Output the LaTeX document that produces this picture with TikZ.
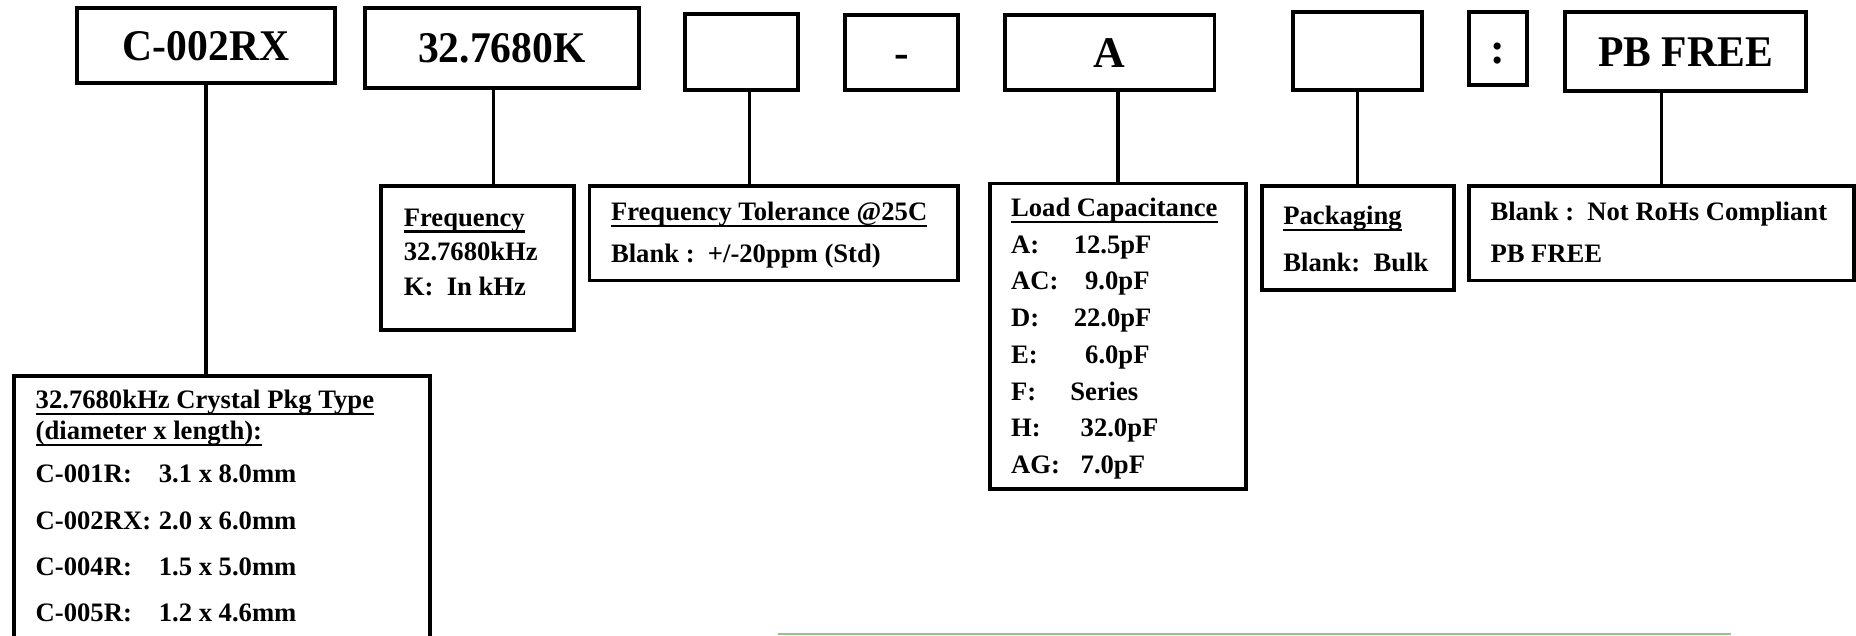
\documentclass[tikz,border=0pt]{standalone}
\usepackage{fontspec}
\setmainfont{Liberation Serif}
\definecolor{sepgreen}{RGB}{150,195,140}
\newcommand\myul[1]{\setbox0=\hbox{#1}\rlap{\rule[-5.5pt]{\wd0}{1.8pt}}\box0}
\newcommand\kv[3]{\makebox[#1][l]{#2}#3}
\begin{document}
\begin{tikzpicture}[x=1pt,y=-1pt,
  box/.style={draw, line width=3.3pt, rectangle, inner sep=0pt},
  topbox/.style={box, text height=25pt, text depth=0pt, font=\fontsize{37}{40}\selectfont\bfseries},
  txt/.style={anchor=base west, inner sep=0pt, font=\fontsize{22.5}{27}\selectfont\bfseries},
  conn/.style={line width=2.9pt}]
\useasboundingbox (0,0) rectangle (1568,537);
% top code boxes
\node[topbox, minimum width=218pt, minimum height=63pt] (b1) at (174,38.5) {\scalebox{0.95}[1]{C-002RX}};
\node[topbox, minimum width=232pt, minimum height=67pt] (b2) at (424,40.5) {\scalebox{0.95}[1]{32.7680K}};
\node[topbox, minimum width=95pt, minimum height=64pt] (b3) at (626.5,44) {};
\node[topbox, minimum width=95pt, minimum height=63pt] (b4) at (761.5,44.5) {-};
\node[topbox, minimum width=177pt, minimum height=63pt] (b5) at (937.5,44.5) {A};
\node[topbox, minimum width=109pt, minimum height=66pt] (b6) at (1146.5,43) {};
\node[topbox, minimum width=49pt, minimum height=62pt] (b7) at (1265.5,41) {:};
\node[topbox, minimum width=204pt, minimum height=67pt] (b8) at (1424,43.5) {\scalebox{0.95}[1]{PB FREE}};
% description boxes
\node[box, minimum width=163pt, minimum height=122pt] (freq) at (403.5,218) {};
\node[box, minimum width=311pt, minimum height=80pt] (tol) at (653.5,197) {};
\node[box, minimum width=217pt, minimum height=258pt] (load) at (944.5,284) {};
\node[box, minimum width=162pt, minimum height=88pt] (pack) at (1147,201) {};
\node[box, minimum width=325pt, minimum height=80pt] (rohs) at (1403.5,197) {};
\node[box, minimum width=351pt, minimum height=242pt] (pkg) at (187.5,439) {};
% connectors
\draw[conn] (b1.south) -- (b1.south |- pkg.north);
\draw[conn] ([xshift=-7pt]b2.south) -- ([xshift=-7pt]b2.south |- freq.north);
\draw[conn] ([xshift=6.5pt]b3.south) -- ([xshift=6.5pt]b3.south |- tol.north);
\draw[conn] (load.north |- b5.south) -- (load.north);
\draw[conn] (pack.north |- b6.south) -- (pack.north);
\draw[conn] (rohs.north |- b8.south) -- (rohs.north);
% frequency
\node[txt] (f1) at (341,191) {\myul{Frequency}};
\node[txt] (f2) at (341,220) {32.7680kHz};
\node[txt] (f3) at (341,250) {K:\ \ In kHz};
% tolerance
\node[txt] (o1) at (516,186) {\myul{Frequency Tolerance @25C}};
\node[txt] (o2) at (516,222) {Blank :\ \ +/-20ppm (Std)};
% load capacitance
\node[txt] (l0) at (854,183) {\myul{Load Capacitance}};
\node[txt] (l1) at (854,214) {\kv{53pt}{A:}{12.5pF}};
\node[txt] (l2) at (854,245) {\kv{62.6pt}{AC:}{9.0pF}};
\node[txt] (l3) at (854,276) {\kv{53pt}{D:}{22.0pF}};
\node[txt] (l4) at (854,307) {\kv{62.6pt}{E:}{6.0pF}};
\node[txt] (l5) at (854,338) {\kv{50pt}{F:}{Series}};
\node[txt] (l6) at (854,369) {\kv{58.8pt}{H:}{32.0pF}};
\node[txt] (l7) at (854,400) {\kv{58.8pt}{AG:}{7.0pF}};
% packaging
\node[txt] (p1) at (1084,190) {\myul{Packaging}};
\node[txt] (p2) at (1084,229) {Blank:\ \ Bulk};
% rohs
\node[txt] (r1) at (1259,186) {Blank :\ \ Not RoHs Compliant};
\node[txt] (r2) at (1259,222) {PB FREE};
% package type
\node[txt] (k1) at (30,345) {\myul{32.7680kHz Crystal Pkg Type}};
\node[txt] (k2) at (30,371) {\myul{(diameter x length):}};
\node[txt] (k3) at (30,408) {\kv{104pt}{C-001R:}{3.1 x 8.0mm}};
\node[txt] (k4) at (30,447) {\kv{104pt}{C-002RX:}{2.0 x 6.0mm}};
\node[txt] (k5) at (30,486) {\kv{104pt}{C-004R:}{1.5 x 5.0mm}};
\node[txt] (k6) at (30,525) {\kv{104pt}{C-005R:}{1.2 x 4.6mm}};
% separator
\coordinate (g1) at (657,535.5);
\coordinate (g2) at (1462,535.5);
\draw[sepgreen, line width=1.8pt] (g1) -- (g2);
\end{tikzpicture}
\end{document}
